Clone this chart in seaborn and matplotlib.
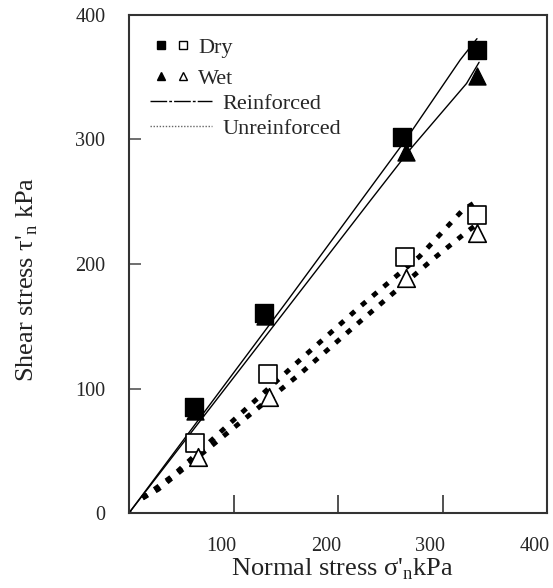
import matplotlib
matplotlib.use("Agg")
import matplotlib.pyplot as plt
import matplotlib.transforms as mtransforms
from matplotlib.lines import Line2D
from matplotlib.legend_handler import HandlerTuple
import seaborn as sns
import pandas as pd

# measured points (normal stress, shear stress) in kPa
dry_reinf_x = [62, 129, 261, 333]
dry_reinf_y = [85, 161, 302, 372]
wet_reinf_x = [63, 130, 265, 333]
wet_reinf_y = [82, 158, 290, 351]
dry_unreinf_x = [63, 133, 264, 333]
dry_unreinf_y = [56, 112, 206, 239]
wet_unreinf_x = [66, 134, 265, 333]
wet_unreinf_y = [45, 93, 189, 225]

# failure envelopes
reinf_upper_x = [0, 152, 265, 317, 333]
reinf_upper_y = [0, 171, 300, 364, 381]
reinf_lower_x = [0, 231, 270, 323, 335]
reinf_lower_y = [0, 251, 293, 345, 362]
unreinf_upper_x = [13, 42, 94, 165, 220, 278, 319, 332]
unreinf_upper_y = [12, 30, 70, 124, 165, 206, 243, 250]
unreinf_lower_x = [13, 28, 82, 164, 220, 291, 322, 333]
unreinf_lower_y = [12, 19, 56, 112, 153, 204, 225, 232]

sns.set_theme(style="white")
plt.rcParams['font.family'] = ['Liberation Serif', 'DejaVu Serif']
plt.rcParams['mathtext.fontset'] = 'custom'
plt.rcParams['mathtext.rm'] = 'Liberation Serif'

fig = plt.figure(figsize=(5.53, 5.88), dpi=100)
ax = fig.add_axes([129/553, 1 - 513/588, 418/553, 498/588])

# reinforced envelopes (thin solid)
for xs, ys in [(reinf_upper_x, reinf_upper_y), (reinf_lower_x, reinf_lower_y)]:
    sns.lineplot(x=xs, y=ys, sort=False, estimator=None, color='black', lw=1.0, ax=ax)
# unreinforced envelopes (heavy dotted)
for xs, ys in [(unreinf_upper_x, unreinf_upper_y), (unreinf_lower_x, unreinf_lower_y)]:
    sns.lineplot(x=xs, y=ys, sort=False, estimator=None, color='black', lw=3.5,
                 linestyle=(0, (1.2, 1.8)), ax=ax)

ax.plot([0], [0], marker='o', ms=3, color='black')

sns.scatterplot(x=dry_reinf_x, y=dry_reinf_y, marker='s', s=150, color='black',
                edgecolor='black', zorder=4, ax=ax)
sns.scatterplot(x=wet_reinf_x, y=wet_reinf_y, marker='^', s=150, color='black',
                edgecolor='black', zorder=3, ax=ax)
sns.scatterplot(x=dry_unreinf_x, y=dry_unreinf_y, marker='s', s=150, color='white',
                edgecolor='black', linewidth=1.2, zorder=4, ax=ax)
sns.scatterplot(x=wet_unreinf_x, y=wet_unreinf_y, marker='^', s=160, color='white',
                edgecolor='black', linewidth=1.2, zorder=4, ax=ax)

ax.set_xlim(0, 400)
ax.set_ylim(0, 400)
ax.set_xticks([100, 200, 300, 400])
ax.set_yticks([0, 100, 200, 300, 400])
ax.tick_params(axis='x', direction='in', length=13, width=1.2, color='#333333',
               pad=17, labelsize=14.5, bottom=True)
ax.tick_params(axis='y', direction='in', length=8.5, width=1.2, color='#555555',
               pad=17, labelsize=14.5, left=True)
offset = mtransforms.ScaledTranslation(-12/100, 0, fig.dpi_scale_trans)
for lab in ax.get_xticklabels():
    lab.set_transform(lab.get_transform() + offset)

for sp in ax.spines.values():
    sp.set_color('#333333')
    sp.set_linewidth(1.5)

ax.set_xlabel("Normal stress σ'$_{\\rm n}$kPa", fontsize=19, color='#222222')
ax.set_ylabel("Shear stress τ'$_{\\rm n}$ kPa", fontsize=19, color='#222222')
ax.xaxis.set_label_coords(0.51, -0.088)
ax.yaxis.set_label_coords(-0.212, 0.47)

sq_f = Line2D([], [], marker='s', ms=5.5, color='black', ls='none')
sq_o = Line2D([], [], marker='s', ms=5.5, mfc='white', mec='black', ls='none')
tr_f = Line2D([], [], marker='^', ms=6, color='black', ls='none')
tr_o = Line2D([], [], marker='^', ms=6, mfc='white', mec='black', ls='none')
leg1 = ax.legend([(sq_f, sq_o), (tr_f, tr_o)], ['Dry', 'Wet'],
                 handler_map={tuple: HandlerTuple(ndivide=None, pad=0.6)},
                 loc='upper left', bbox_to_anchor=(0.065, 0.955), frameon=False,
                 fontsize=16, handlelength=1.4, handletextpad=0.5,
                 labelspacing=0.45, borderpad=0, borderaxespad=0)
ax.add_artist(leg1)
ln_r = Line2D([], [], color='black', lw=1.0, ls=(0, (12, 1.5, 2, 1.5)))
ln_u = Line2D([], [], color='#666666', lw=1.0, ls=(0, (1, 1.2)))
ax.legend([ln_r, ln_u], ['Reinforced', 'Unreinforced'], loc='upper left',
          bbox_to_anchor=(0.05, 0.843), frameon=False, fontsize=16,
          handlelength=2.8, handletextpad=0.48, labelspacing=0.2,
          borderpad=0, borderaxespad=0)

fig.savefig("out.png", dpi=100)
